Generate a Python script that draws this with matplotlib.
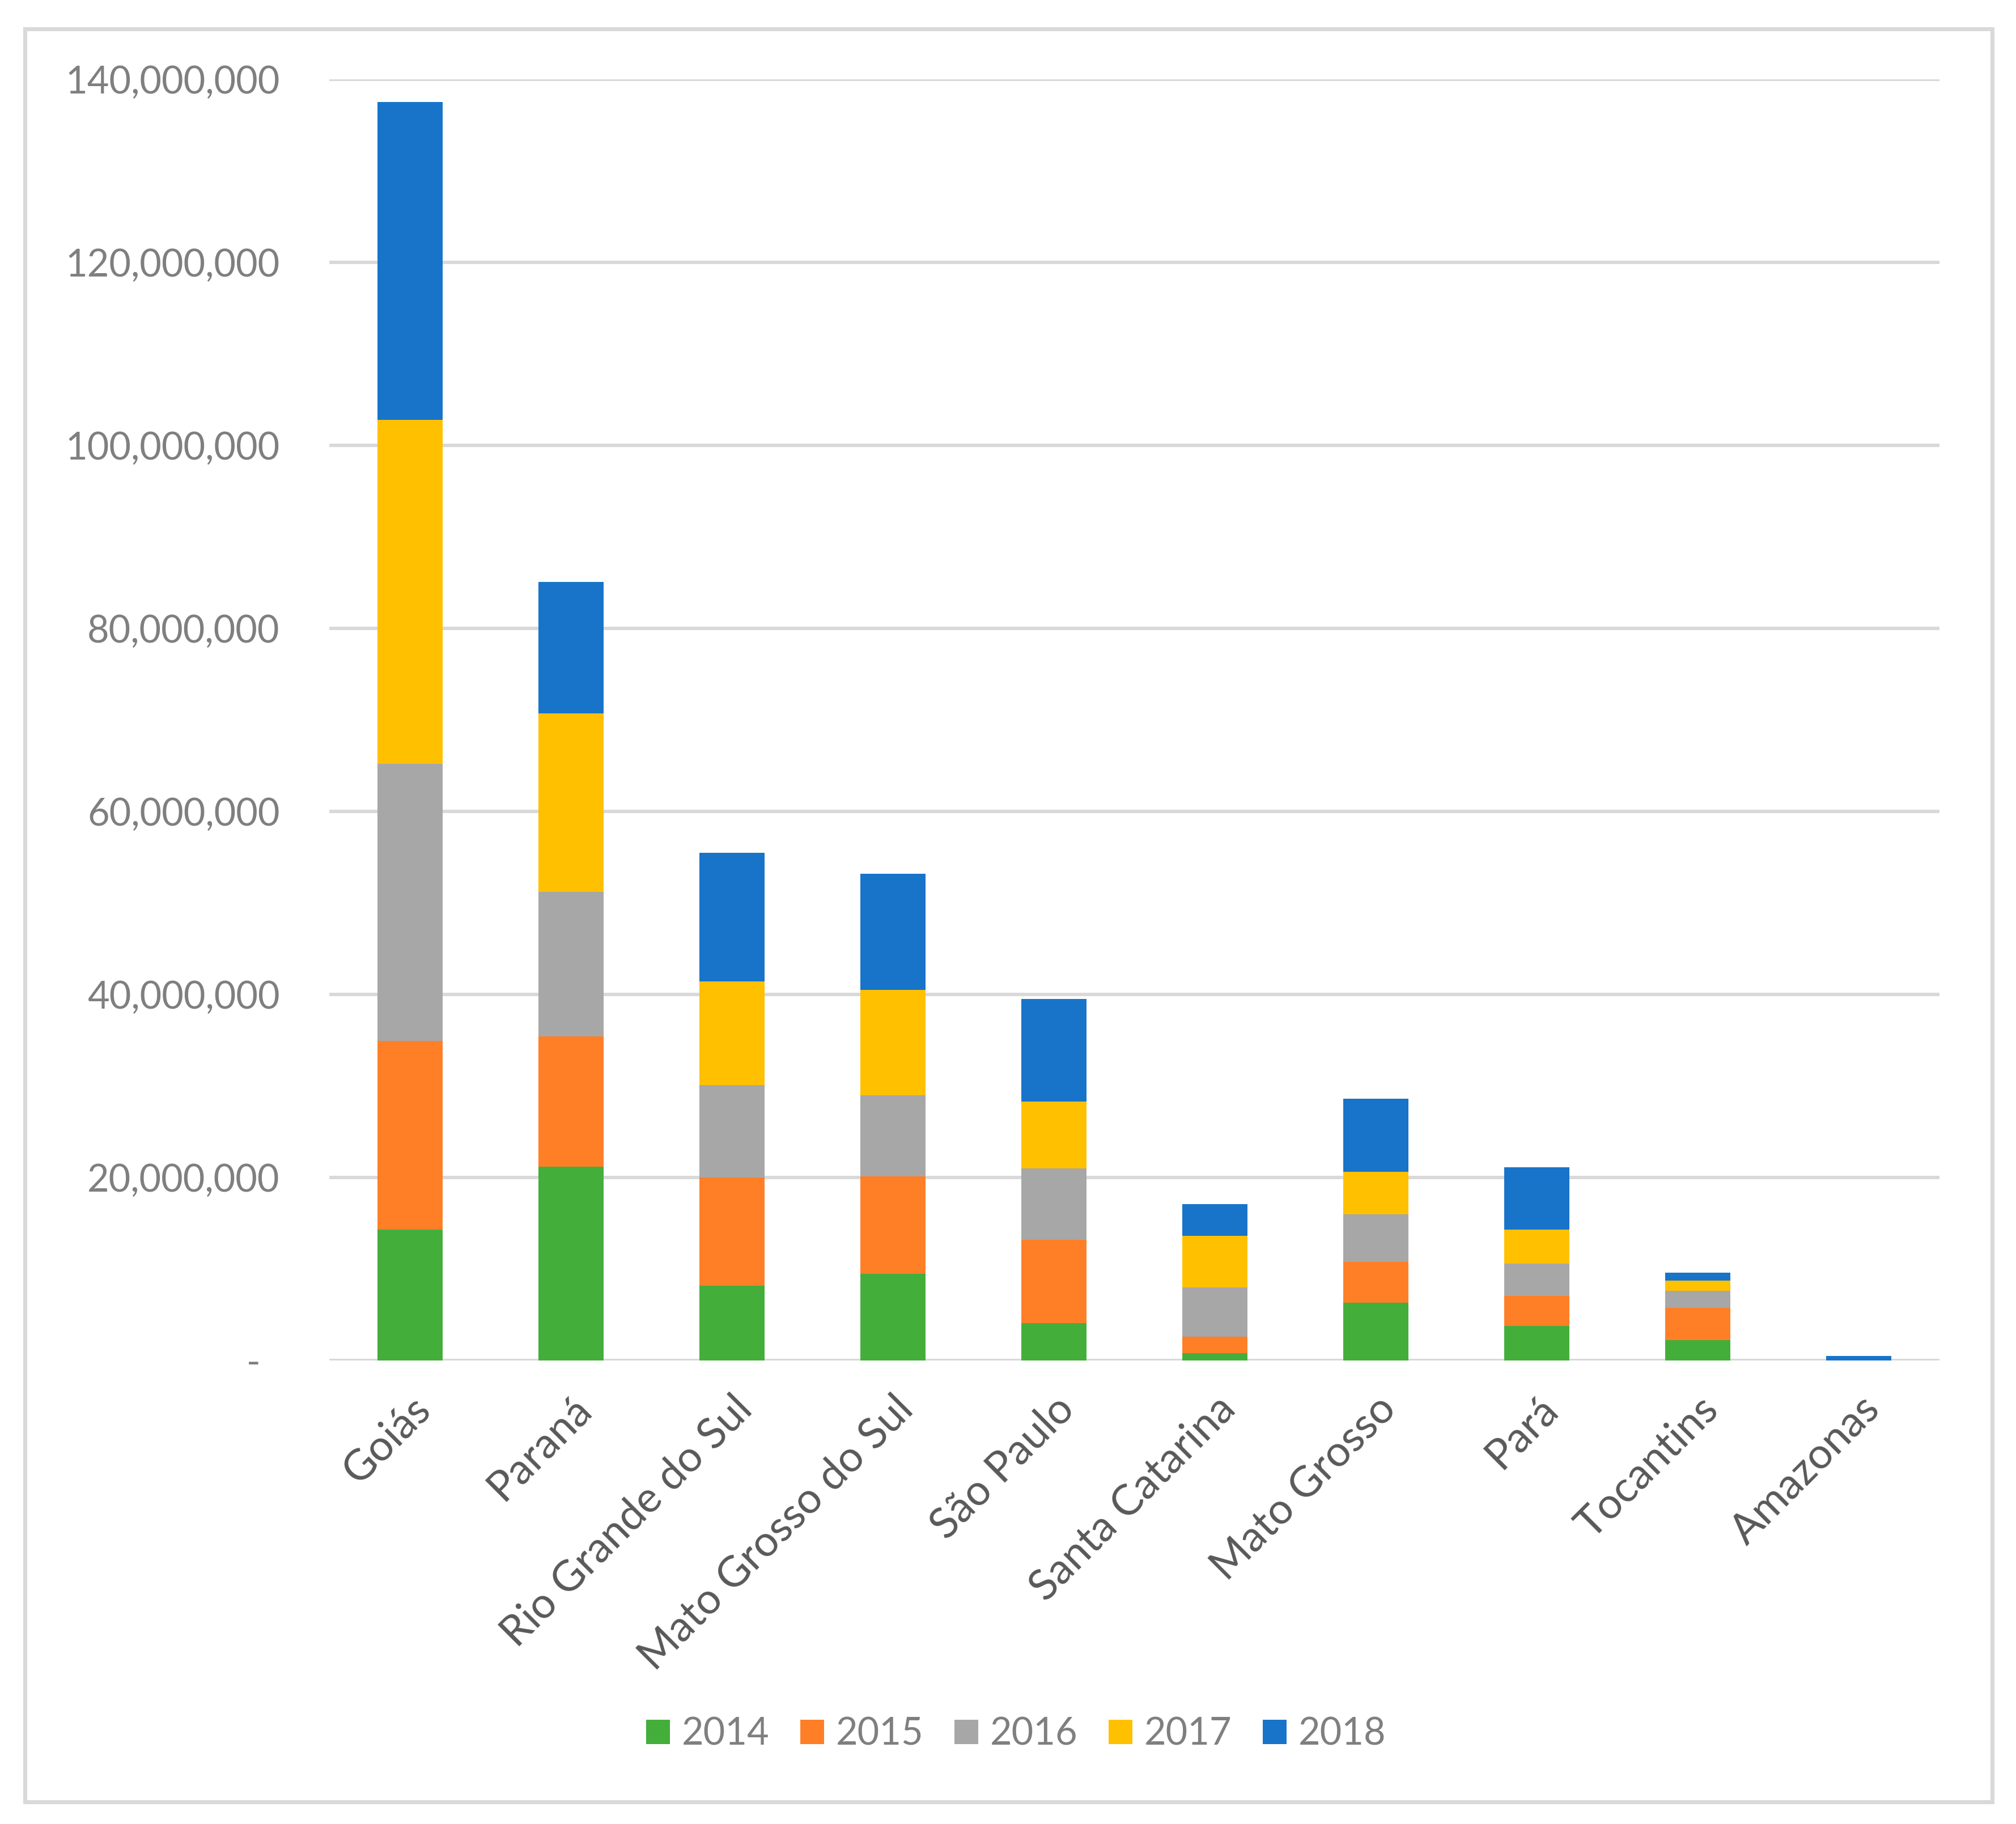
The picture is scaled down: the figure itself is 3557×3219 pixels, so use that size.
import matplotlib
matplotlib.use("Agg")
import matplotlib.pyplot as plt
from matplotlib.patches import Rectangle
from matplotlib.ticker import FuncFormatter, MultipleLocator
import numpy as np

states = ["Goiás", "Paraná", "Rio Grande do Sul", "Mato Grosso do Sul", "São Paulo",
          "Santa Catarina", "Mato Grosso", "Pará", "Tocantins", "Amazonas"]
years = ["2014", "2015", "2016", "2017", "2018"]

# values in millions
v2014 = [14.3, 21.2, 8.2, 9.5, 4.1, 0.8, 6.3, 3.8, 2.2, 0.0]
v2015 = [20.6, 14.2, 11.8, 10.6, 9.1, 1.8, 4.5, 3.25, 3.55, 0.0]
v2016 = [30.3, 15.8, 10.1, 8.9, 7.8, 5.4, 5.2, 3.55, 1.85, 0.0]
v2017 = [37.6, 19.5, 11.3, 11.5, 7.3, 5.6, 4.6, 3.7, 1.1, 0.0]
v2018 = [34.7, 14.4, 14.1, 12.7, 11.2, 3.5, 8.0, 6.8, 0.9, 0.5]

colors = ["#44AE3B", "#FF7F27", "#A7A7A7", "#FFC000", "#1874C9"]

series = [v2014, v2015, v2016, v2017, v2018]

W, H, DPI = 3557, 3219, 300
fig = plt.figure(figsize=(W / DPI, H / DPI), dpi=DPI)
plt.rcParams['font.family'] = ['Lato', 'DejaVu Sans']

ax = fig.add_axes([581 / W, 1 - 2401 / H, (3422 - 581) / W, (2401 - 140) / H])

x = np.arange(len(states))
bottom = np.zeros(len(states))
handles = []
for yr, vals, c in zip(years, series, colors):
    vals = np.array(vals) * 1e6
    h = ax.bar(x, vals, width=0.405, bottom=bottom, color=c, label=yr, zorder=3)
    handles.append(h)
    bottom += vals

ax.set_xlim(-0.5, len(states) - 0.5)
ax.set_ylim(0, 140e6)
ax.yaxis.set_major_locator(MultipleLocator(20e6))


def fmt(v, pos):
    if abs(v) < 1:
        return "-  "
    return f"{v:,.0f}"


ax.yaxis.set_major_formatter(FuncFormatter(fmt))
ax.grid(axis='y', color='#D9D9D9', linewidth=1.45, zorder=0)
ax.set_axisbelow(True)
for s in ax.spines.values():
    s.set_visible(False)
ax.tick_params(axis='y', length=0, pad=21, labelsize=16, labelcolor='#7F7F7F')
ax.tick_params(axis='x', length=0, pad=12, labelsize=18, labelcolor='#595959')
ax.set_xticks(x)
ax.set_xticklabels(states, rotation=45, ha='right', va='top', rotation_mode='anchor')

leg = fig.legend(handles=handles, labels=years, loc='center', bbox_to_anchor=(0.504, 1 - 3061 / H),
                 ncol=5, frameon=False, fontsize=16, labelcolor='#7F7F7F',
                 handlelength=0.63, handleheight=0.63, handletextpad=0.31, columnspacing=0.82)

fig.patches.append(Rectangle((44 / W, 1 - 3180 / H), (3515 - 44) / W, (3180 - 51) / H,
                             transform=fig.transFigure, fill=False, edgecolor='#D9D9D9',
                             linewidth=1.7, zorder=0))

fig.savefig("out.png", dpi=DPI, facecolor='white')
